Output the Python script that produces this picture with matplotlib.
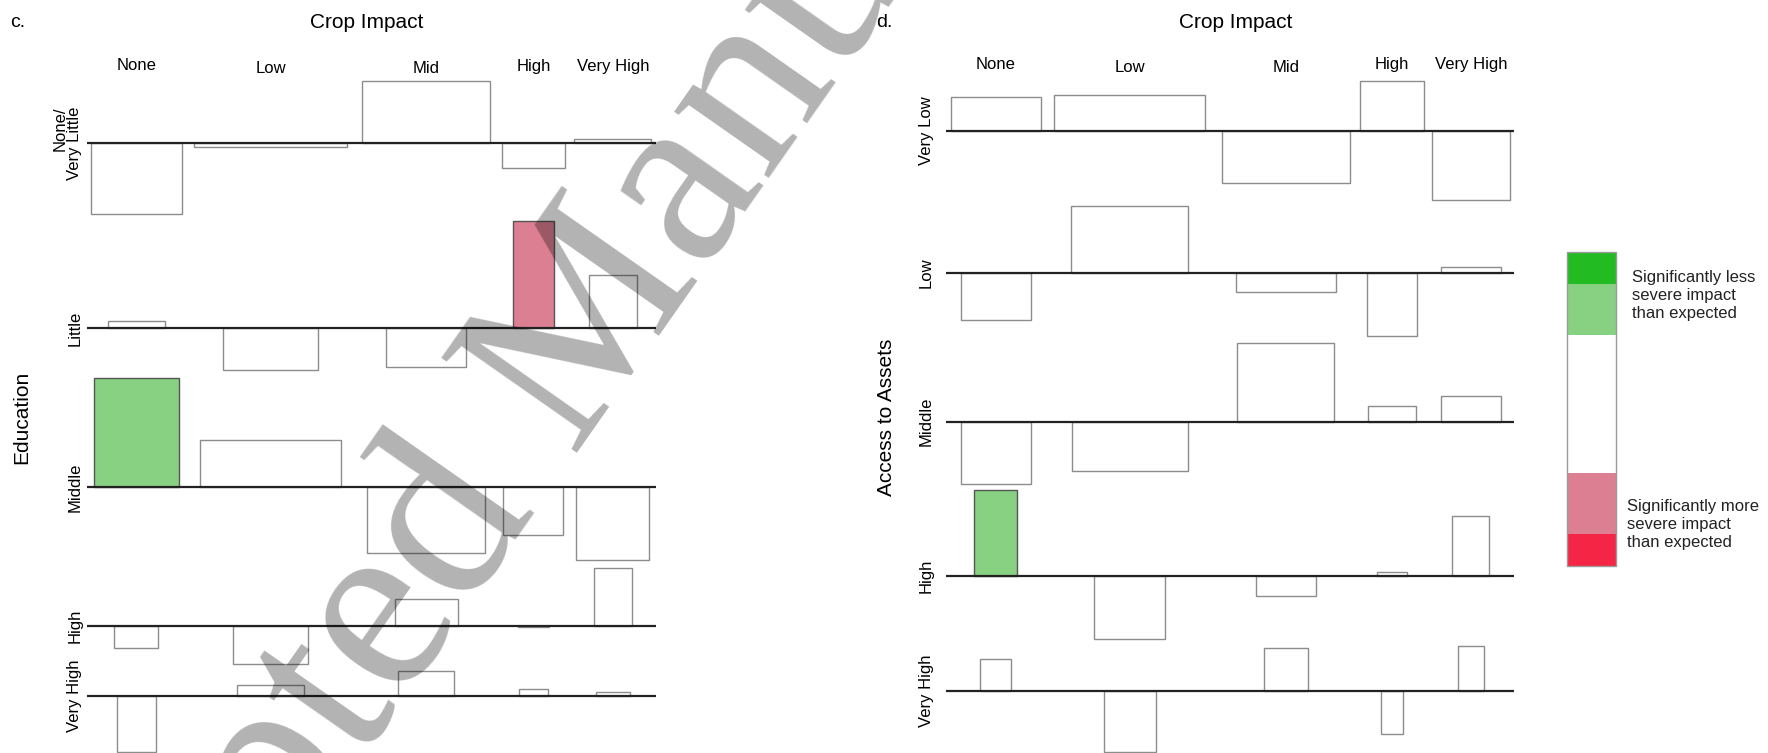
import matplotlib
matplotlib.use("Agg")
import matplotlib.pyplot as plt
from matplotlib.patches import Rectangle

plt.rcParams['font.family'] = ['Liberation Sans', 'DejaVu Sans']

# ---------------- data ----------------
crop_levels = ["None", "Low", "Mid", "High", "Very High"]

edu_levels = ["None/\nVery Little", "Little", "Middle", "High", "Very High"]
# residuals (rows = education level, cols = crop impact)
edu_resid = [
    [-3.15, -0.15, 2.75, -1.10, 0.20],
    [0.30, -1.85, -1.75, 4.75, 2.35],
    [4.85, 2.10, -2.95, -2.15, -3.25],
    [-1.00, -1.70, 1.20, -0.05, 2.55],
    [-2.50, 0.45, 1.10, 0.30, 0.15],
]
# bar widths ~ sqrt(expected counts)
edu_width = [
    [8.1, 13.6, 11.4, 5.6, 6.8],
    [5.0, 8.4, 7.1, 3.6, 4.3],
    [7.6, 12.5, 10.5, 5.3, 6.5],
    [3.9, 6.7, 5.6, 2.8, 3.4],
    [3.5, 5.9, 5.0, 2.6, 3.0],
]
# significance: 0 none, 1 less severe (green), -1 more severe (pink)
edu_sig = [
    [0, 0, 0, 0, 0],
    [0, 0, 0, -1, 0],
    [1, 0, 0, 0, 0],
    [0, 0, 0, 0, 0],
    [0, 0, 0, 0, 0],
]

asset_levels = ["Very Low", "Low", "Middle", "High", "Very High"]
asset_resid = [
    [1.50, 1.60, -2.30, 2.20, -3.05],
    [-2.10, 2.95, -0.85, -2.80, 0.25],
    [-2.75, -2.20, 3.50, 0.70, 1.15],
    [3.80, -2.80, -0.90, 0.20, 2.65],
    [1.40, -2.70, 1.90, -1.90, 2.00],
]
asset_width = [
    [8.0, 13.4, 11.4, 5.7, 6.9],
    [6.2, 10.4, 8.9, 4.5, 5.3],
    [6.2, 10.3, 8.6, 4.3, 5.3],
    [3.8, 6.3, 5.3, 2.7, 3.3],
    [2.8, 4.6, 3.9, 1.9, 2.3],
]
asset_sig = [
    [0, 0, 0, 0, 0],
    [0, 0, 0, 0, 0],
    [0, 0, 0, 0, 0],
    [1, 0, 0, 0, 0],
    [0, 0, 0, 0, 0],
]

legend_labels = ["Significantly less\nsevere impact\nthan expected",
                 "Significantly more\nsevere impact\nthan expected"]

# ---------------- layout ----------------
W, H = 1568.0, 668.0          # layout coordinate space
RES_SCALE = 20.0              # layout units per residual unit
WID_SCALE = 10.0

fig = plt.figure(figsize=(17.68, 7.53), dpi=100)
ax = fig.add_axes([0, 0, 1, 1])
ax.set_xlim(0, W)
ax.set_ylim(H, 0)
ax.axis('off')

GREEN = '#88d183'
PINK = '#dd7f92'
DGREEN = '#22bb22'
RED = '#f52545'
EDGE = '#8c8c8c'

def panel(resid, width, sig, rows, col_x, row_y, line_x, col_label_y,
          letter, letter_x, title_x, ylab, ylab_x, ylab_y, row_lab_x):
    for i, row in enumerate(resid):
        base = row_y[i]
        ax.plot(line_x, [base, base], color='#222222', lw=1.6, zorder=3,
                solid_capstyle='butt')
        for j, r in enumerate(row):
            s = sig[i][j]
            fc = GREEN if s == 1 else (PINK if s == -1 else 'white')
            ec = '#555555' if s != 0 else EDGE
            ax.bar(col_x[j], -r * RES_SCALE, width=width[i][j] * WID_SCALE,
                   bottom=base, color=fc, edgecolor=ec, linewidth=1.0,
                   zorder=2)
        ax.text(row_lab_x, base, rows[i], rotation=90, ha='right',
                va='center', fontsize=12, linespacing=1.0)
    for j, lab in enumerate(crop_levels):
        ax.text(col_x[j], col_label_y[j], lab, ha='center', va='center',
                fontsize=12)
    ax.text(letter_x, 20, letter, ha='center', va='center', fontsize=14)
    ax.text(title_x, 20, "Crop Impact", ha='center', va='center',
            fontsize=15)
    ax.text(ylab_x, ylab_y, ylab, rotation=90,
            ha='center', va='center', fontsize=15)

panel(edu_resid, edu_width, edu_sig, edu_levels,
      col_x=[121, 240, 378, 473, 543.5],
      row_y=[127, 291, 432, 555, 617],
      line_x=[77, 582],
      col_label_y=[58, 61, 61, 59, 59],
      letter="c.", letter_x=16, title_x=325,
      ylab="Education", ylab_x=19, ylab_y=370, row_lab_x=73)

panel(asset_resid, asset_width, asset_sig, asset_levels,
      col_x=[883, 1002, 1140.5, 1234.5, 1304.5],
      row_y=[116, 242, 374, 511, 613],
      line_x=[839, 1343],
      col_label_y=[57, 60, 60, 57, 57],
      letter="d.", letter_x=784, title_x=1096,
      ylab="Access to Assets", ylab_x=786, ylab_y=370, row_lab_x=828)

# ---------------- legend ----------------
lx0, lx1 = 1390, 1433
segs = [(223.5, 252, DGREEN), (252, 297, GREEN), (297, 419.5, 'white'),
        (419.5, 473.5, PINK), (473.5, 502, RED)]
for y0, y1, c in segs:
    ax.add_patch(Rectangle((lx0, y0), lx1 - lx0, y1 - y0, facecolor=c,
                           edgecolor='none', zorder=2))
ax.add_patch(Rectangle((lx0, 223.5), lx1 - lx0, 502 - 223.5, facecolor='none',
                       edgecolor='#9a9a9a', lw=1.0, zorder=3))
ax.text(1447, 262.5, legend_labels[0], ha='left', va='center', fontsize=12,
        linespacing=1.25, color='#222222')
ax.text(1443, 465, legend_labels[1], ha='left', va='center', fontsize=12,
        linespacing=1.25, color='#222222')

# ---------------- watermark ----------------
ax.text(543, 358, "Accepted Manuscript", rotation=55, rotation_mode='anchor',
        ha='center', va='baseline', fontsize=182, family='Liberation Serif',
        color=(0, 0, 0, 0.3), zorder=5)

fig.savefig("out.png", dpi=100)
